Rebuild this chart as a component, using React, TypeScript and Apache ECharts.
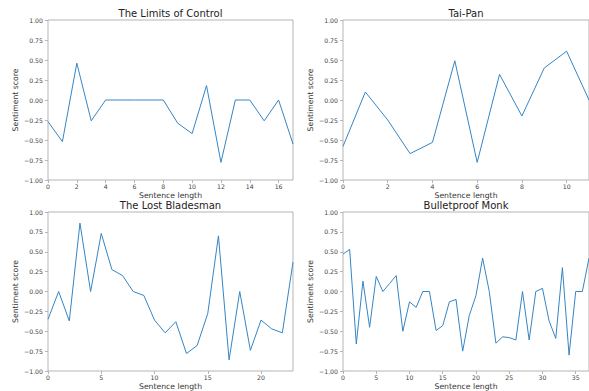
import React, { useEffect, useRef } from "react";
import * as echarts from "echarts";

const titles = ["The Limits of Control", "Tai-Pan", "The Lost Bladesman", "Bulletproof Monk"];

const limitsOfControl = [-0.27, -0.52, 0.46, -0.26, 0, 0, 0, 0, 0, -0.29, -0.42, 0.18, -0.78, 0, 0, -0.26, 0, -0.55];
const taiPan = [-0.58, 0.1, -0.25, -0.67, -0.53, 0.49, -0.78, 0.32, -0.2, 0.4, 0.61, 0.0];
const lostBladesman = [-0.35, 0.0, -0.37, 0.86, 0.0, 0.73, 0.275, 0.2, 0.0, -0.05, -0.36, -0.52, -0.38, -0.78, -0.68, -0.275, 0.7, -0.86, 0.0, -0.74, -0.36, -0.47, -0.52, 0.37];
const bulletproofMonk = [0.47, 0.53, -0.66, 0.13, -0.45, 0.19, 0.0, 0.1, 0.2, -0.5, -0.13, -0.2, 0.0, 0.0, -0.49, -0.43, -0.13, -0.1, -0.75, -0.3, -0.05, 0.42, 0.0, -0.65, -0.57, -0.58, -0.61, 0.0, -0.61, 0.0, 0.04, -0.37, -0.59, 0.3, -0.8, 0.0, 0.0, 0.42];

const seriesValues = [limitsOfControl, taiPan, lostBladesman, bulletproofMonk];
const xIntervals = [2, 2, 5, 5];
const yTicks = [-1, -0.75, -0.5, -0.25, 0, 0.25, 0.5, 0.75, 1];

const xAxisName = "Sentence length";
const yAxisName = "Sentiment score";

const grids = [
  { left: 48, right: 296, top: 20, bottom: 211 },
  { left: 343, right: 0, top: 20, bottom: 211 },
  { left: 48, right: 296, top: 212, bottom: 20 },
  { left: 343, right: 0, top: 212, bottom: 20 },
];
const titlePos = [
  { x: 170.5, y: 8.5 },
  { x: 466, y: 8.5 },
  { x: 170.5, y: 200 },
  { x: 466, y: 200 },
];

const FONT = "DejaVu Sans";
const SPINE = "#b5b5b5";
const LABEL = "#444";
const LINE = "#3585c4";

function fmtY(v: number) {
  return v.toFixed(2).replace("-", "\u2212");
}

export default function App() {
  const ref = useRef<HTMLDivElement>(null);
  useEffect(() => {
    document.body.style.margin = "0";
    const chart = echarts.init(ref.current!, undefined, { renderer: "svg" });
    const option: any = {
      animation: false,
      backgroundColor: "#ffffff",
      title: titles.map((t, i) => ({
        text: t,
        left: titlePos[i].x,
        top: titlePos[i].y,
        textAlign: "center",
        padding: 0,
        textStyle: { fontFamily: FONT, fontSize: 10, fontWeight: "normal", color: "#222" },
      })),
      grid: grids.map((g) => ({
        ...g,
        show: true,
        borderColor: SPINE,
        borderWidth: 1,
        backgroundColor: "transparent",
        containLabel: false,
      })),
      xAxis: seriesValues.map((vals, i) => ({
        type: "value",
        gridIndex: i,
        min: 0,
        max: vals.length - 1,
        interval: xIntervals[i],
        name: xAxisName,
        nameLocation: "middle",
        nameGap: 11,
        nameTextStyle: { fontFamily: FONT, fontSize: 7.7, color: "#333" },
        axisLine: { show: false, onZero: false },
        axisTick: { show: true, length: 3, lineStyle: { color: SPINE } },
        axisLabel: {
          fontFamily: FONT,
          fontSize: 6.2,
          color: LABEL,
          margin: 3,
          showMaxLabel: (vals.length - 1) % xIntervals[i] === 0,
          formatter: (v: number) => String(v),
        },
        splitLine: { show: false },
      })),
      yAxis: seriesValues.map((_, i) => ({
        type: "value",
        gridIndex: i,
        min: -1,
        max: 1,
        interval: 0.25,
        name: yAxisName,
        nameLocation: "middle",
        nameGap: 29,
        nameTextStyle: { fontFamily: FONT, fontSize: 7.7, color: "#333" },
        axisLine: { show: false, onZero: false },
        axisTick: { show: true, length: 3, lineStyle: { color: SPINE } },
        axisLabel: {
          fontFamily: FONT,
          fontSize: 6.2,
          color: LABEL,
          margin: 5,
          formatter: (v: number) => (yTicks.includes(v) ? fmtY(v) : ""),
        },
        splitLine: { show: false },
      })),
      series: seriesValues.map((vals, i) => ({
        type: "line",
        xAxisIndex: i,
        yAxisIndex: i,
        data: vals.map((v, k) => [k, v]),
        showSymbol: false,
        symbol: "none",
        lineStyle: { color: LINE, width: 1 },
        itemStyle: { color: LINE },
      })),
    };
    chart.setOption(option);
    return () => chart.dispose();
  }, []);
  return <div ref={ref} style={{ width: 589, height: 391 }} />;
}
